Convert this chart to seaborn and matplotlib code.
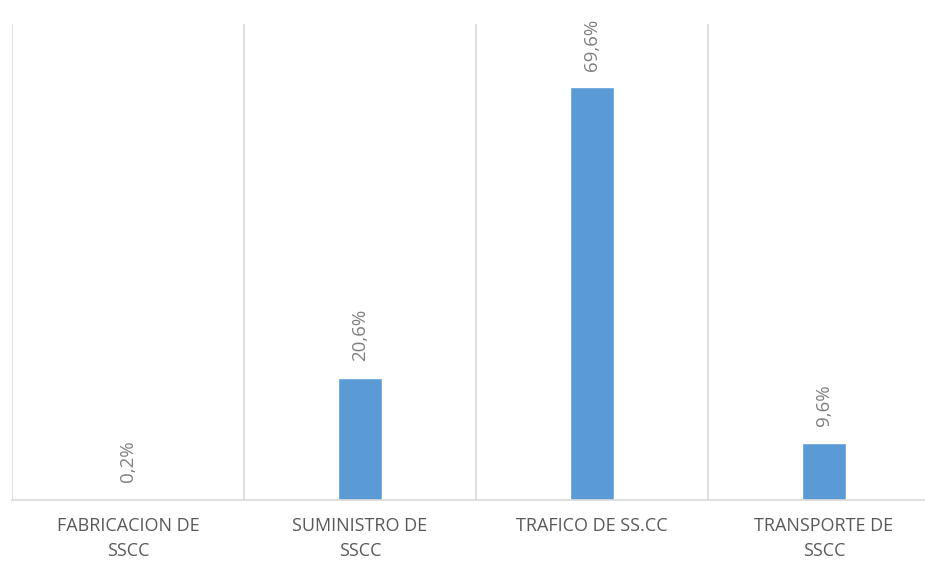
import numpy as np
import matplotlib
matplotlib.use('Agg')
import matplotlib.pyplot as plt
import seaborn as sns

categories = ['FABRICACION DE\nSSCC', 'SUMINISTRO DE\nSSCC', 'TRAFICO DE SS.CC', 'TRANSPORTE DE\nSSCC']
values = [0.2, 20.6, 69.6, 9.6]
value_labels = ['0,2%', '20,6%', '69,6%', '9,6%']

sns.set_style('white')
plt.rcParams['font.family'] = ['Open Sans', 'DejaVu Sans']

fig = plt.figure(figsize=(9.25, 5.63), dpi=100)
ax = fig.add_axes([12 / 925, 63 / 563, 913 / 925, 476 / 563])

sns.barplot(x=categories, y=values, color='#5b9bd5', width=0.19, saturation=1, ax=ax)

ax.bar_label(ax.containers[0], labels=value_labels, rotation=90, padding=12,
             fontsize=13.5, color='#7f7f7f')

# category separators
ax.set_xticks(np.arange(-0.5, 4, 1), minor=True)
ax.grid(True, which='minor', axis='x', color='#d9d9d9', linewidth=1.2)
ax.grid(False, which='major')
ax.set_yticks([])

ax.set_ylim(0, 80.3)
ax.set_xlim(-0.5, -0.5 + 913 / 232)

for side in ['top', 'right', 'left']:
    ax.spines[side].set_visible(False)
ax.spines['bottom'].set_color('#d9d9d9')
ax.spines['bottom'].set_linewidth(1.2)

ax.tick_params(axis='x', which='both', length=0, pad=12, labelsize=13, labelcolor='#595959')
for lbl in ax.get_xticklabels():
    lbl.set_linespacing(1.5)
ax.set_xlabel('')
ax.set_ylabel('')

fig.savefig('out.png', dpi=100)
